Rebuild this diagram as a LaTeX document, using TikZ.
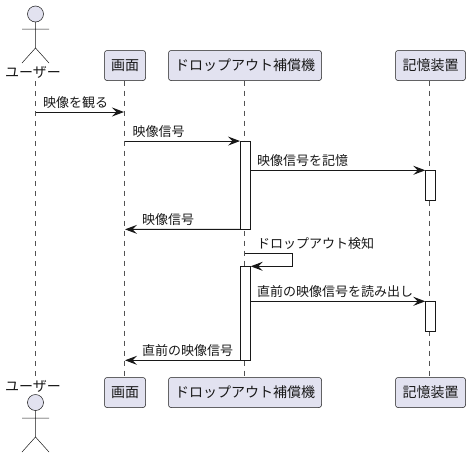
\documentclass[tikz,border=0pt]{standalone}
\usepackage{fontspec}
\setmainfont{Noto Sans CJK JP}
\usetikzlibrary{arrows.meta}
\definecolor{ink}{HTML}{181818}
\definecolor{boxfill}{HTML}{E2E2F0}
\tikzset{
  x=1pt,y=-1pt,
  part/.style={draw=ink,line width=0.5pt,fill=boxfill,rounded corners=2.5pt,inner sep=0pt,outer sep=0pt,minimum height=30pt,font=\fontsize{14}{14}\selectfont,text=ink},
  life/.style={draw=ink!75,line width=0.5pt,dash pattern=on 5pt off 5pt},
  actbox/.style={draw=ink,line width=1pt,fill=white,inner sep=0pt,outer sep=0pt,minimum width=10pt},
  msg/.style={draw=ink,line width=1pt,-{Stealth[length=12pt,width=9pt,inset=4.5pt,fill=ink]}},
  lab/.style={anchor=west,inner sep=0pt,font=\fontsize{13}{13}\selectfont,text=ink},
  stick/.style={draw=ink,line width=0.5pt},
  head/.style={circle,draw=ink,line width=0.5pt,fill=boxfill,minimum size=16pt,inner sep=0pt,outer sep=0pt},
  actname/.style={inner sep=0pt,font=\fontsize{14}{14}\selectfont,text=ink}
}
\begin{document}
\begin{tikzpicture}
\useasboundingbox (0,0) rectangle (470,458);
% participants
\node[part,minimum width=41pt]  (s1) at (125,65.5) {画面};
\node[part,minimum width=153pt] (d1) at (245,65.5) {ドロップアウト補償機};
\node[part,minimum width=70pt]  (m1) at (430.5,65.5) {記憶装置};
\node[part,minimum width=41pt]  (s2) at (125,392.5) {画面};
\node[part,minimum width=153pt] (d2) at (245,392.5) {ドロップアウト補償機};
\node[part,minimum width=70pt]  (m2) at (430.5,392.5) {記憶装置};
\node[actname] (u1) at (33,72) {ユーザー};
\node[actname] (u2) at (33,386) {ユーザー};
\coordinate (us) at (35.5,81);
\coordinate (ub) at (35.5,376);
% lifelines
\draw[life] (us) -- (ub);
\draw[life] ([xshift=-0.5pt]s1.south) -- ([xshift=-0.5pt]s2.north);
\draw[life] ([xshift=-0.5pt]d1.south) -- ([xshift=-0.5pt]d2.north);
\draw[life] ([xshift=-0.8pt]m1.south) -- ([xshift=-0.8pt]m2.north);
% actors
\node[head] (h1) at (35.5,14) {};
\coordinate (n1) at (35.5,48);
\coordinate (a1l) at (22,29); \coordinate (a1r) at (49,29);
\coordinate (l1l) at (22,63); \coordinate (l1r) at (49,63);
\draw[stick] (h1.south) -- (n1) (a1l) -- (a1r) (l1l) -- (n1) -- (l1r);
\node[head] (h2) at (35.5,402.5) {};
\coordinate (n2) at (35.5,437);
\coordinate (a2l) at (22,418); \coordinate (a2r) at (49,418);
\coordinate (l2l) at (22,452); \coordinate (l2r) at (49,452);
\draw[stick] (h2.south) -- (n2) (a2l) -- (a2r) (l2l) -- (n2) -- (l2r);
% activations
\node[actbox,minimum height=88.3pt] (A1) at (245,185.2) {};
\node[actbox,minimum height=30.2pt] (B1) at (430.3,185.4) {};
\node[actbox,minimum height=94pt]   (A2) at (245,313.3) {};
\node[actbox,minimum height=30.2pt] (B2) at (430.3,316.4) {};
% messages
\coordinate (p1) at (35.5,112);
\coordinate (p1e) at (124,112);
\draw[msg] (p1) -- (p1e);
\node[lab] (t1) at (43,102.5) {映像を観る};
\coordinate (p2) at (124.5,141.05);
\draw[msg] (p2) -- (A1.north west);
\node[lab] (t2) at (132.5,131.5) {映像信号};
\coordinate (p3) at (A1.east |- B1.north);
\draw[msg] (p3) -- (B1.north west);
\node[lab] (t3) at (257,160.5) {映像信号を記憶};
\coordinate (p4) at (125,229.35);
\draw[msg] (A1.south west) -- (p4);
\node[lab] (t4) at (142,219.5) {映像信号};
\coordinate (q0) at (244.5,253.3);
\coordinate (q1) at (292.3,253.3);
\coordinate (q2) at (292.3,266.3);
\coordinate (q3) at (250.7,266.3);
\draw[msg] (q0) -- (q1) -- (q2) -- (q3);
\node[lab] (t5) at (257,244) {ドロップアウト検知};
\coordinate (p6) at (A2.east |- B2.north);
\draw[msg] (p6) -- (B2.north west);
\node[lab] (t6) at (257,291.5) {直前の映像信号を読み出し};
\coordinate (p7) at (125,360.3);
\draw[msg] (A2.south west) -- (p7);
\node[lab] (t7) at (142,350.5) {直前の映像信号};
\end{tikzpicture}
\end{document}
